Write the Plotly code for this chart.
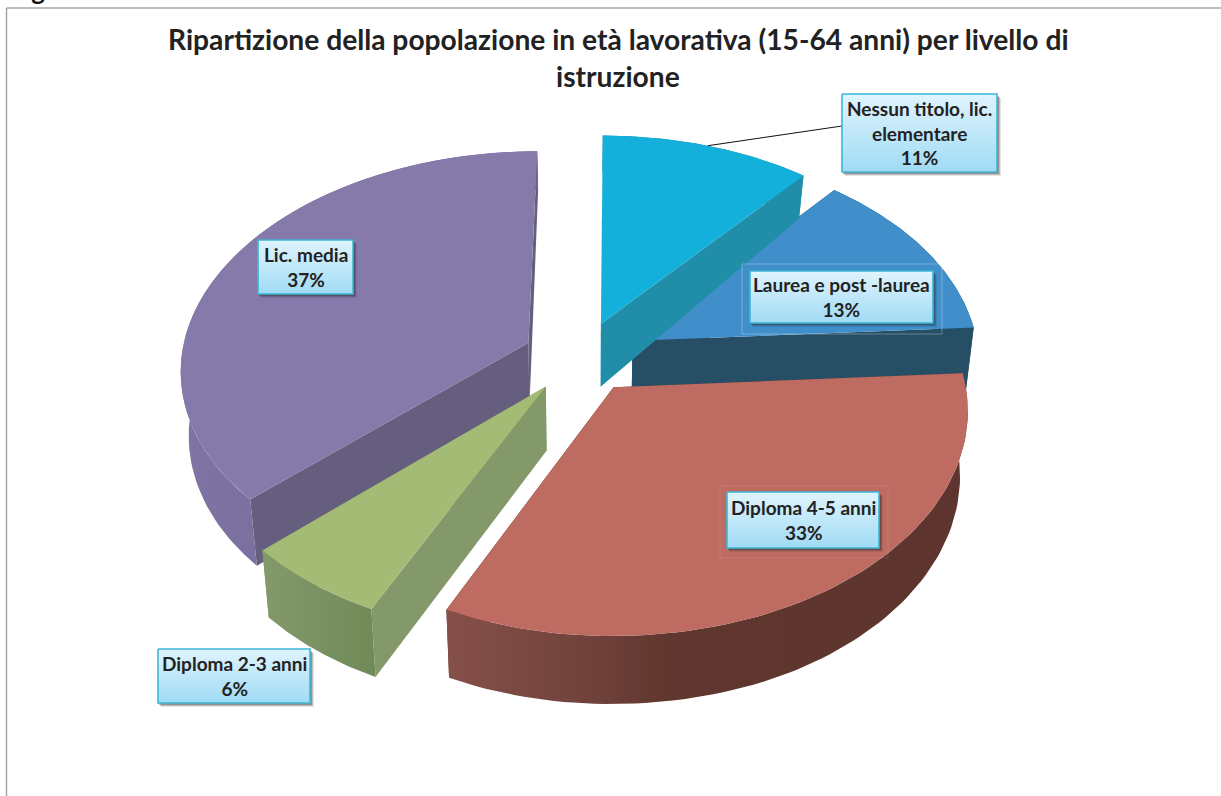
import numpy as np
import plotly.graph_objects as go

# ---- data ----
categories = ["Nessun titolo, lic.<br>elementare", "Laurea e post -laurea", "Diploma 4-5 anni",
              "Diploma 2-3 anni", "Lic. media"]
values = [11, 13, 33, 6, 37]
title_lines = ["Ripartizione della popolazione in età lavorativa (15-64 anni) per livello di", "istruzione"]

# ---- styles ----
top_colors = ["#14B0DC", "#408FCB", "#BE6B62", "#A3BB75", "#867AAB"]
side_colors = ["#218EA9", "#264F66", "#60372F", "#83996A", "#665E7F"]
rim_scales = [
    [[0, "#218EA9"], [1, "#218EA9"]],
    [[0, "#264F66"], [1, "#264F66"]],
    [[0, "#865049"], [0.3, "#6E403A"], [0.42, "#60372F"], [1, "#5E352E"]],
    [[0, "#83996A"], [1, "#708A57"]],
    [[0, "#7F74A3"], [1, "#6B6290"]],
]
draw_order = [4, 1, 0, 3, 2]
label_boxes = [(842, 997, 94, 172), (750, 933, 271, 323), (727, 879, 492, 548), (158, 310, 649, 703), (258, 353, 240, 294)]
faint_boxes = {1: (742, 942, 264, 334, "rgba(255,255,255,0.3)"), 2: (720, 888, 486, 558, "rgba(255,255,255,0.1)")}

# projection of the exploded pie
VX, Y0, R, PULL, K, D, SKEW = 581.0, 357.0, 347.0, 58.0, 0.62, 3222.0, 0.012


def project(X, Y):
    f = 1 / (1 + Y / D)
    return VX + (X + SKEW * Y) * f, Y0 - K * Y * f


def drop(X, Y):
    sx, sy = project(X, Y)
    h = np.interp(Y, [-360, 60, 400], [68, 63, 37])
    return VX + (sx - VX) * 0.98, sy + h


def poly(fig, xs, ys, color=None, scale=None, gtype="horizontal"):
    kw = dict(fillgradient=dict(type=gtype, colorscale=scale)) if scale else dict(fillcolor=color)
    fig.add_trace(go.Scatter(x=list(xs), y=list(ys), mode="lines", fill="toself", line=dict(width=0),
                             hoverinfo="skip", showlegend=False, **kw))


fig = go.Figure()
fr = np.array(values, float) / sum(values)
ends = np.cumsum(fr) * 2 * np.pi
starts = ends - fr * 2 * np.pi
mids = (starts + ends) / 2
leader = None
for i in draw_order:
    ax, ay = PULL * np.sin(mids[i]), PULL * np.cos(mids[i])
    t = np.linspace(starts[i], ends[i], 80)
    X, Y = ax + R * np.sin(t), ay + R * np.cos(t)
    sx, sy = project(X, Y)
    bx, by = drop(X, Y)
    apx, apy = project(ax, ay)
    abx, aby = drop(ax, ay)
    # radial walls, then the outer wall, then the top
    for j in (0, -1):
        poly(fig, [apx, sx[j], bx[j], abx], [apy, sy[j], by[j], aby], color=side_colors[i])
    poly(fig, np.r_[sx, bx[::-1]], np.r_[sy, by[::-1]], scale=rim_scales[i])
    poly(fig, np.r_[apx, sx], np.r_[apy, sy], color=top_colors[i])
    if i == 0:
        lx, ly = project(ax + R * np.sin(mids[i]), ay + R * np.cos(mids[i]))
        leader = (lx, ly)

# leader line of the first label
fig.add_trace(go.Scatter(x=[leader[0], label_boxes[0][0]], y=[leader[1], 126], mode="lines",
                         line=dict(color="#111111", width=1), hoverinfo="skip", showlegend=False))

# labels
annotations = []
for i, (x0, x1, y0, y1) in enumerate(label_boxes):
    if i in faint_boxes:
        a, b, c, d, col = faint_boxes[i]
        fig.add_trace(go.Scatter(x=[a, b, b, a, a], y=[c, c, d, d, c], mode="lines", line=dict(color=col, width=1),
                                 hoverinfo="skip", showlegend=False))
    for off, alpha in ((4, 0.12), (3, 0.2), (2, 0.3)):
        poly(fig, [x0 + off - 1, x1 + off, x1 + off, x0 + off - 1], [y0 + off, y0 + off, y1 + off, y1 + off],
             color=f"rgba(40,40,40,{alpha})")
    fig.add_trace(go.Scatter(x=[x0, x1, x1, x0, x0], y=[y0, y0, y1, y1, y0], mode="lines", fill="toself",
                             line=dict(color="#3DB7D3", width=1.6),
                             fillgradient=dict(type="vertical",
                                               colorscale=[[0, "#A0DBF5"], [1, "#E0F4FD"]]),
                             hoverinfo="skip", showlegend=False))
    annotations.append(dict(x=(x0 + x1) / 2, y=(y0 + y1) / 2, xref="x", yref="y", showarrow=False,
                            text=f"<b>{categories[i]}<br>{values[i]}%</b>", align="center",
                            font=dict(family="Lato", size=19, color="#222222")))

annotations.append(dict(x=618, y=39, xref="x", yref="y", showarrow=False, text=f"<b>{title_lines[0]}</b>",
                        font=dict(family="Lato", size=28.2, color="#222222")))
annotations.append(dict(x=618, y=76, xref="x", yref="y", showarrow=False, text=f"<b>{title_lines[1]}</b>",
                        font=dict(family="Lato", size=28.2, color="#222222")))
annotations.append(dict(x=8 / 1221, y=1, xref="paper", yref="paper", xanchor="left", yanchor="bottom", yshift=-8,
                        showarrow=False, text="<b>Figura 3</b>",
                        font=dict(family="Lato", size=26, color="#111111")))

fig.update_layout(
    width=1221, height=796, margin=dict(l=0, r=0, t=0, b=0), paper_bgcolor="white", plot_bgcolor="white",
    xaxis=dict(range=[0, 1221], visible=False, fixedrange=True),
    yaxis=dict(range=[796, 0], visible=False, fixedrange=True),
    showlegend=False, annotations=annotations,
    shapes=[dict(type="line", xref="x", yref="y", x0=6.5, x1=1221, y0=8, y1=8, line=dict(color="#A6A6A6", width=1.5)),
            dict(type="line", xref="x", yref="y", x0=6.5, x1=6.5, y0=8, y1=796, line=dict(color="#A6A6A6", width=1.5))],
)
fig.write_html("out.html", config=dict(displayModeBar=False),
               post_script="document.body.style.margin='0';document.body.style.overflow='hidden';")
